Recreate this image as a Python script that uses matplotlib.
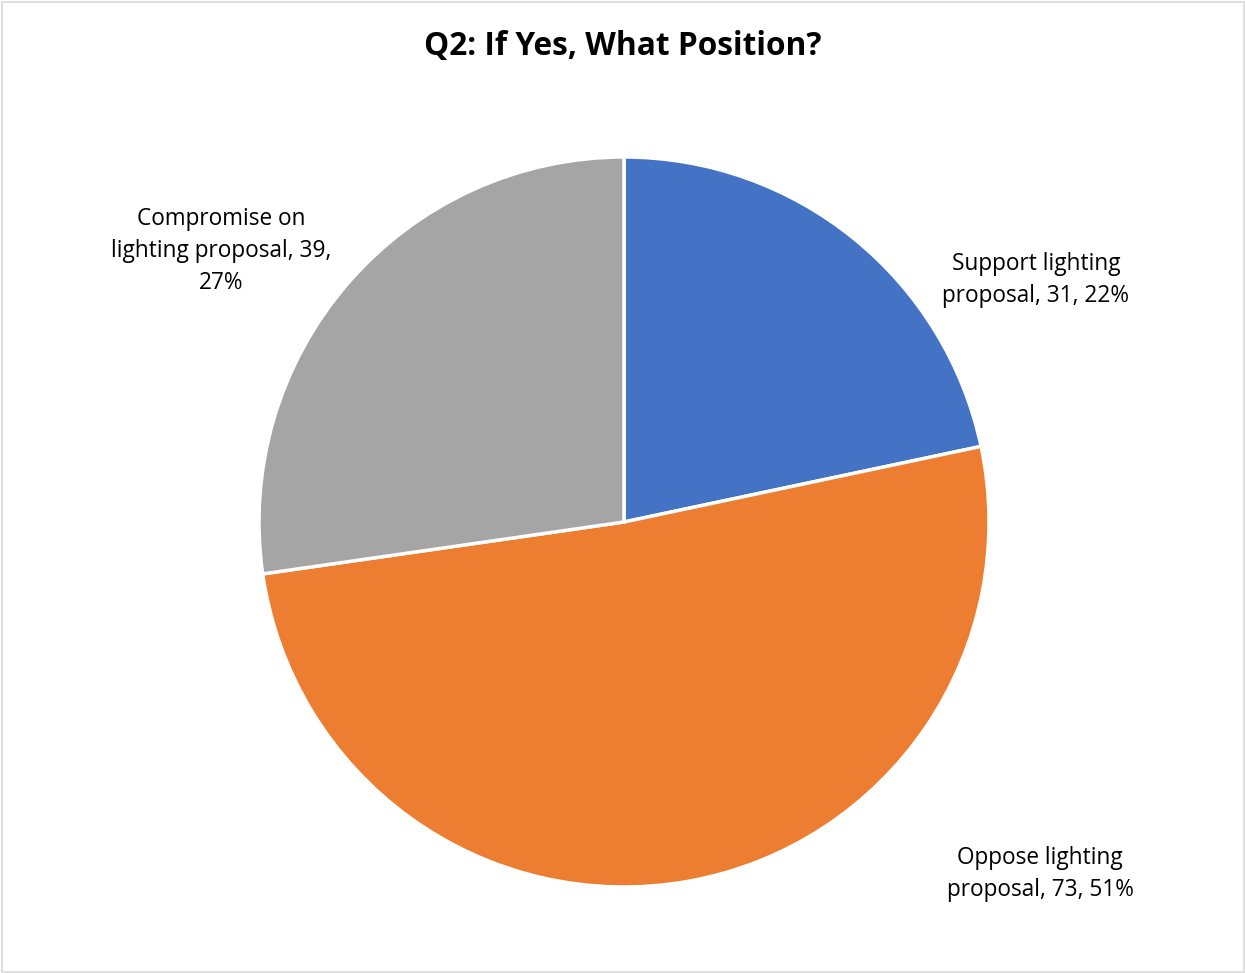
import matplotlib
matplotlib.use("Agg")
import matplotlib.pyplot as plt
from matplotlib.patches import Rectangle

title = "Q2: If Yes, What Position?"
categories = ["Support lighting proposal", "Oppose lighting proposal", "Compromise on lighting proposal"]
values = [31, 73, 39]
colors = ["#4472C4", "#ED7D31", "#A5A5A5"]
label_texts = ["Support lighting\nproposal, 31, 22%", "Oppose lighting\nproposal, 73, 51%",
               "Compromise on\nlighting proposal, 39,\n27%"]
label_pos = [(1036, 693), (1040, 99), (221, 722)]

W, H = 1245, 973
fig = plt.figure(figsize=(W / 100, H / 100), dpi=100)
ax = fig.add_axes([0, 0, 1, 1])
ax.set_xlim(0, W)
ax.set_ylim(0, H)
ax.set_aspect("equal")
ax.axis("off")

ax.add_patch(Rectangle((1.5, 1.5), W - 3, H - 3, fill=False, edgecolor="#D9D9D9", linewidth=1.2))

ax.pie(values, colors=colors, startangle=90, counterclock=False,
       center=(624, 451), radius=365,
       wedgeprops=dict(edgecolor="white", linewidth=2.5))
ax.set_xlim(0, W)
ax.set_ylim(0, H)

font = "Open Sans"
for txt, (x, y) in zip(label_texts, label_pos):
    ax.text(x, y, txt, ha="center", va="center", fontsize=16.3, family=font,
            color="#000000", linespacing=1.42)

ax.text(623, 927, title, ha="center", va="center", fontsize=22.8, fontweight="bold",
        family=font, color="#000000")

fig.savefig("out.png", dpi=100)
